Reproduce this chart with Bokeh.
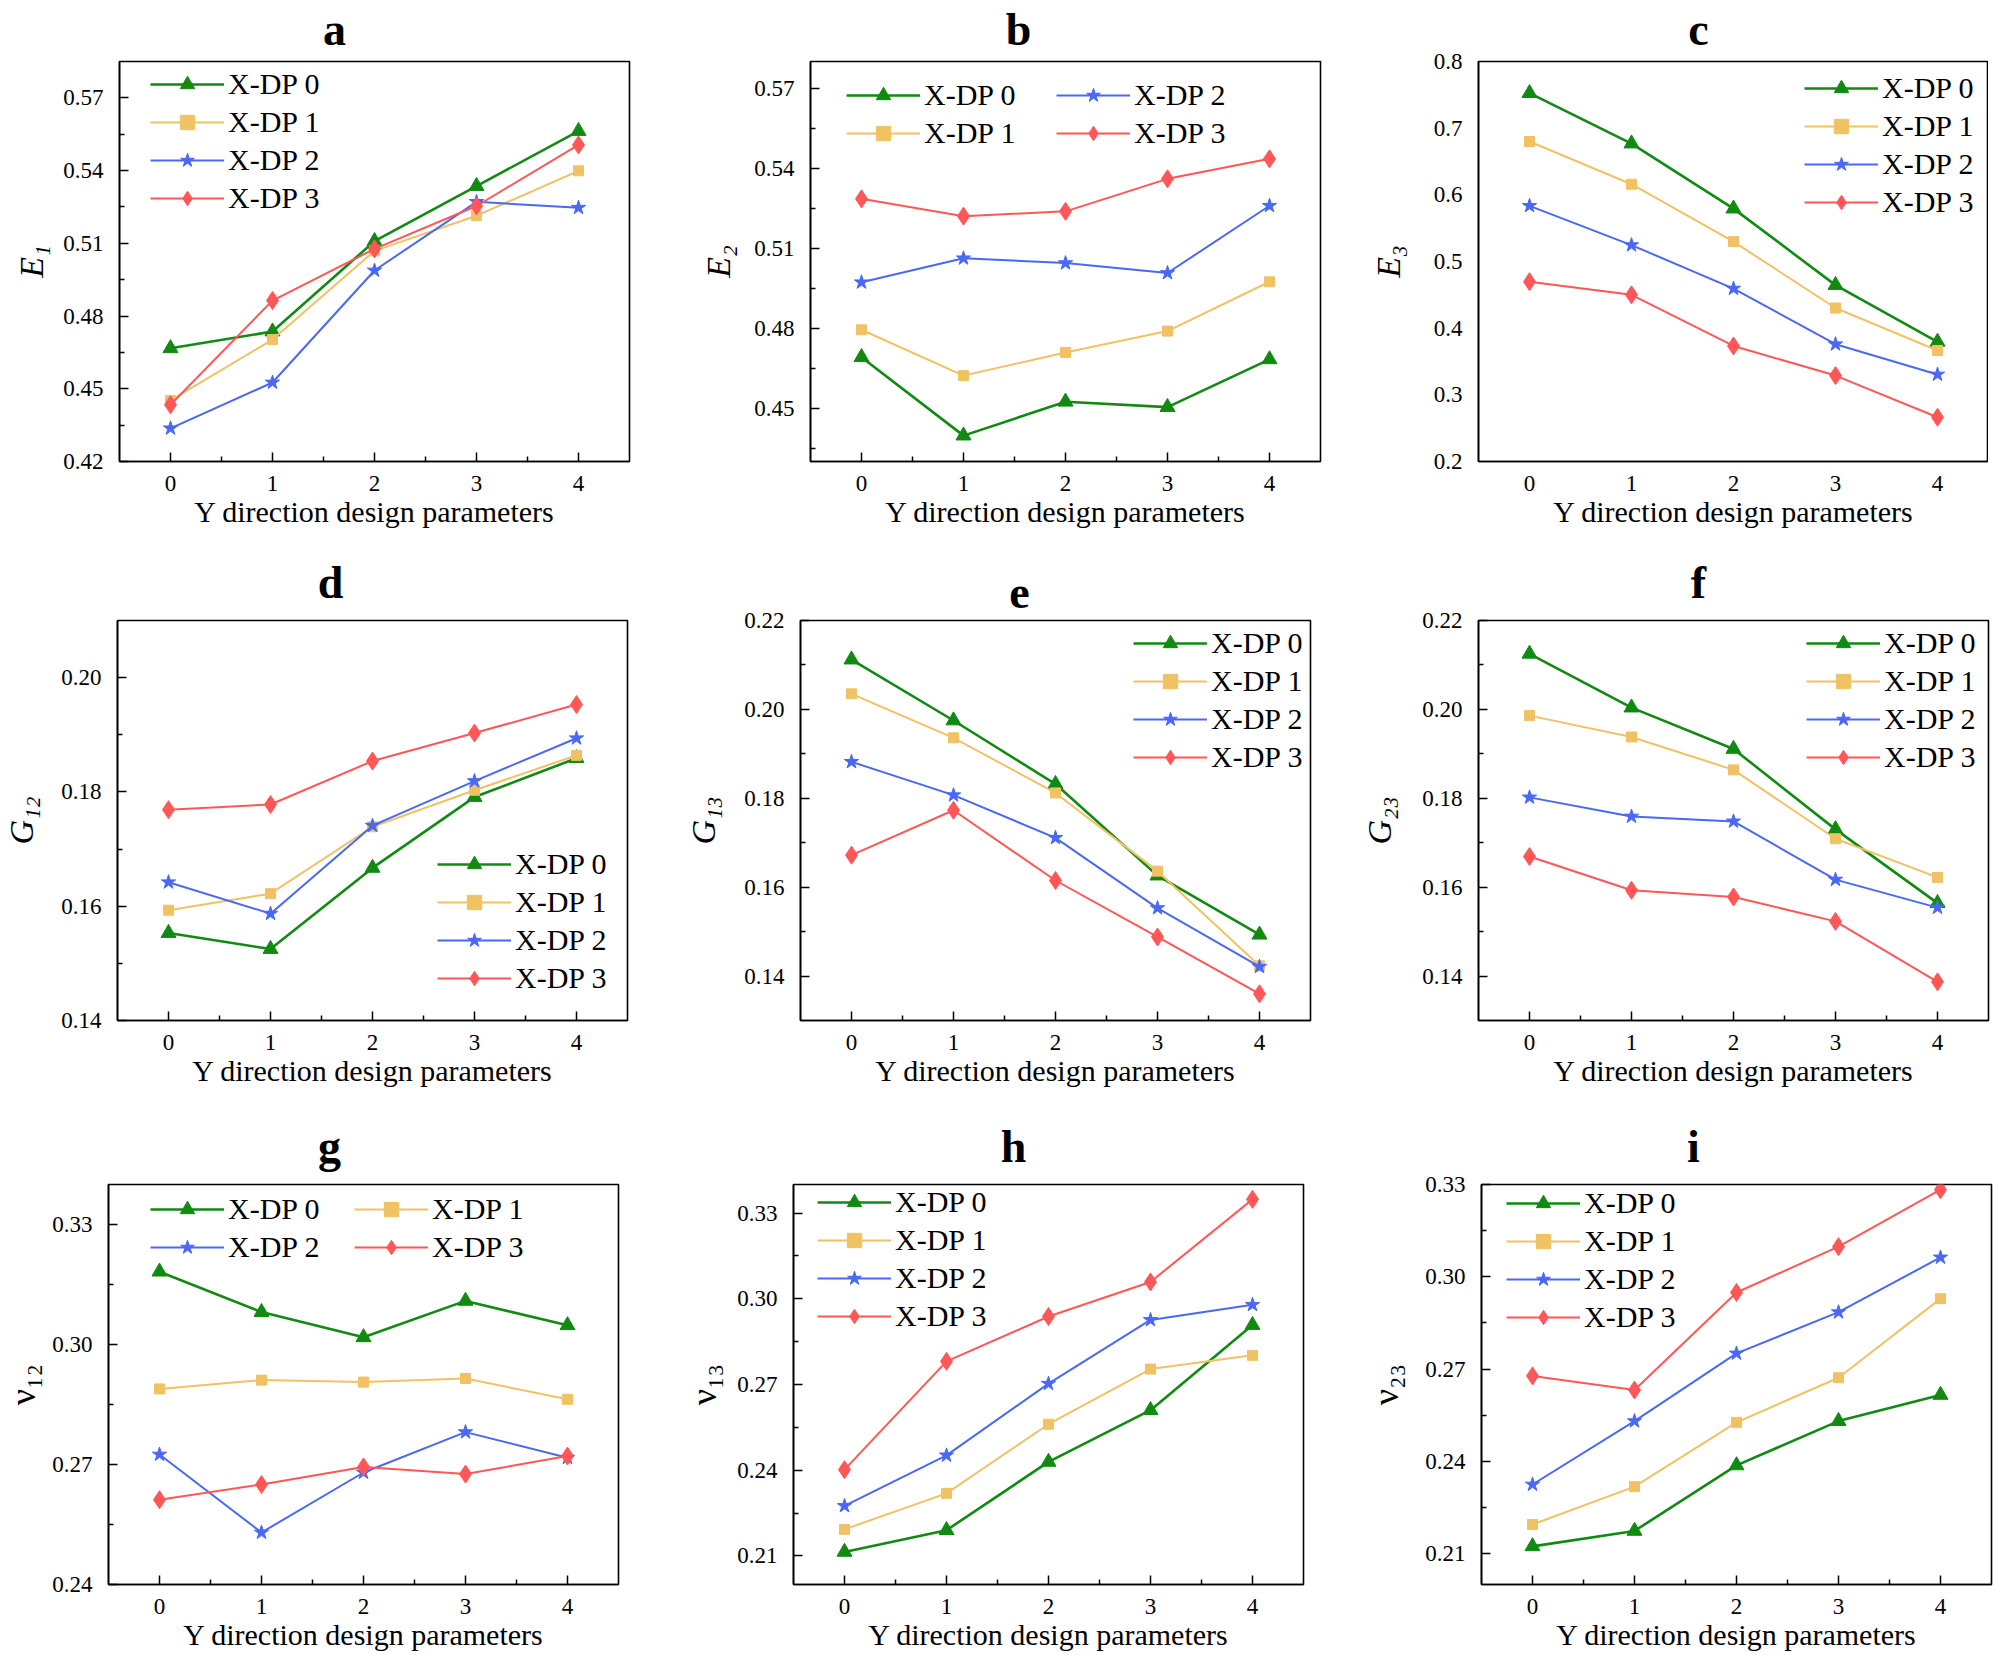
from bokeh.plotting import figure
from bokeh.layouts import column, row
from bokeh.models import (Range1d, FixedTicker, NumeralTickFormatter, Legend, LegendItem,
                          LinearAxis, CustomJSTickFormatter)
from bokeh.embed import file_html
from bokeh.resources import INLINE

# ---------------- data ----------------
y_dp = [0, 1, 2, 3, 4]
series_names = ["X-DP 0", "X-DP 1", "X-DP 2", "X-DP 3"]
x_axis_title = "Y direction design parameters"

E1_dp0 = [0.4667, 0.4736, 0.5109, 0.5336, 0.5563]
E1_dp1 = [0.4452, 0.4703, 0.5069, 0.5214, 0.5399]
E1_dp2 = [0.4337, 0.4526, 0.4988, 0.5271, 0.5247]
E1_dp3 = [0.4434, 0.4864, 0.5077, 0.5254, 0.5506]

E2_dp0 = [0.4691, 0.4397, 0.4524, 0.4504, 0.4683]
E2_dp1 = [0.4794, 0.4622, 0.4709, 0.4789, 0.4974]
E2_dp2 = [0.4972, 0.5062, 0.5044, 0.5007, 0.5259]
E2_dp3 = [0.5285, 0.5220, 0.5238, 0.5360, 0.5435]

E3_dp0 = [0.7525, 0.6769, 0.5793, 0.4646, 0.3795]
E3_dp1 = [0.6800, 0.6159, 0.5298, 0.4302, 0.3665]
E3_dp2 = [0.5835, 0.5246, 0.4594, 0.3759, 0.3305]
E3_dp3 = [0.4698, 0.4500, 0.3733, 0.3289, 0.2663]

G12_dp0 = [0.1553, 0.1525, 0.1667, 0.1791, 0.1859]
G12_dp1 = [0.1593, 0.1622, 0.1739, 0.1803, 0.1864]
G12_dp2 = [0.1642, 0.1587, 0.1741, 0.1819, 0.1894]
G12_dp3 = [0.1769, 0.1778, 0.1854, 0.1903, 0.1953]

G13_dp0 = [0.2112, 0.1975, 0.1832, 0.1626, 0.1493]
G13_dp1 = [0.2035, 0.1936, 0.1812, 0.1636, 0.1423]
G13_dp2 = [0.1882, 0.1807, 0.1711, 0.1553, 0.1421]
G13_dp3 = [0.1672, 0.1773, 0.1615, 0.1488, 0.1360]

G23_dp0 = [0.2125, 0.2004, 0.1911, 0.1730, 0.1564]
G23_dp1 = [0.1986, 0.1938, 0.1864, 0.1709, 0.1622]
G23_dp2 = [0.1802, 0.1759, 0.1748, 0.1617, 0.1554]
G23_dp3 = [0.1669, 0.1593, 0.1578, 0.1523, 0.1387]

v12_dp0 = [0.3182, 0.3081, 0.3018, 0.3109, 0.3048]
v12_dp1 = [0.2889, 0.2911, 0.2906, 0.2915, 0.2863]
v12_dp2 = [0.2725, 0.2530, 0.2680, 0.2781, 0.2717]
v12_dp3 = [0.2612, 0.2650, 0.2694, 0.2676, 0.2721]

v13_dp0 = [0.2114, 0.2190, 0.2429, 0.2610, 0.2908]
v13_dp1 = [0.2193, 0.2319, 0.2561, 0.2754, 0.2802]
v13_dp2 = [0.2275, 0.2452, 0.2703, 0.2926, 0.2979]
v13_dp3 = [0.2402, 0.2781, 0.2938, 0.3059, 0.3348]

v23_dp0 = [0.2124, 0.2174, 0.2387, 0.2531, 0.2616]
v23_dp1 = [0.2195, 0.2318, 0.2527, 0.2672, 0.2929]
v23_dp2 = [0.2325, 0.2531, 0.2751, 0.2885, 0.3063]
v23_dp3 = [0.2678, 0.2632, 0.2949, 0.3098, 0.3283]

# y-axis tick labels (major) and minor ticks
E1_ticks = [0.42, 0.45, 0.48, 0.51, 0.54, 0.57]
E1_minor = [0.435, 0.465, 0.495, 0.525, 0.555]
E2_ticks = [0.45, 0.48, 0.51, 0.54, 0.57]
E2_minor = [0.435, 0.465, 0.495, 0.525, 0.555]
E3_ticks = [0.2, 0.3, 0.4, 0.5, 0.6, 0.7, 0.8]
G12_ticks = [0.14, 0.16, 0.18, 0.20]
G12_minor = [0.15, 0.17, 0.19]
G13_ticks = [0.14, 0.16, 0.18, 0.20, 0.22]
G13_minor = [0.15, 0.17, 0.19, 0.21]
v12_ticks = [0.24, 0.27, 0.30, 0.33]
v12_minor = [0.255, 0.285, 0.315]
v13_ticks = [0.21, 0.24, 0.27, 0.30, 0.33]
v13_minor = [0.225, 0.255, 0.285, 0.315]
x_ticks = [0, 1, 2, 3, 4]
x_minor = [0.5, 1.5, 2.5, 3.5]

# ---------------- style ----------------
FONT = "Liberation Serif"
COLORS = ["#118a11", "#f0c264", "#4a68f4", "#ff5757"]
LWIDTH = [2.6, 2.0, 2.0, 2.0]
MARKERS = ["triangle", "square", "star", "diamond"]
MSIZE = [15, 10, 15, 18]

FW = 510
FH = 400
SUBS = {"1": "\u2081", "2": "\u2082", "3": "\u2083"}


def make_panel(letter, series, yr, ticks, minor, fmt, ylabel, italic, lab_size, lab_standoff,
               bl, br, bt, bb, title_standoff, title_dx, legend_spec, show_ticks=True):
    p = figure(frame_width=FW, frame_height=FH, output_backend="svg", toolbar_location=None,
               x_range=Range1d(-0.5, 4.5), y_range=Range1d(*yr),
               min_border_left=bl, min_border_right=br, min_border_top=bt, min_border_bottom=bb)
    p.background_fill_color = "white"
    p.border_fill_color = "white"
    p.grid.visible = False
    p.outline_line_color = "black"
    p.outline_line_width = 1.6

    p.xaxis.ticker = FixedTicker(ticks=x_ticks, minor_ticks=x_minor)
    p.yaxis.ticker = FixedTicker(ticks=ticks, minor_ticks=minor)
    p.yaxis.formatter = NumeralTickFormatter(format=fmt)
    for ax in (p.xaxis[0], p.yaxis[0]):
        ax.axis_line_width = 1.6
        ax.axis_line_color = "black"
        ax.major_label_text_font = FONT
        ax.major_label_text_font_size = "23px"
        ax.major_label_text_color = "black"
        ax.major_tick_out = 0
        ax.minor_tick_out = 0
        if show_ticks:
            ax.major_tick_in = 9
            ax.minor_tick_in = 5
            ax.major_tick_line_width = 1.5
            ax.minor_tick_line_width = 1.5
            ax.major_tick_line_color = "black"
            ax.minor_tick_line_color = "black"
        else:
            ax.major_tick_line_color = None
            ax.minor_tick_line_color = None
    p.xaxis.major_label_standoff = 14
    p.yaxis.major_label_standoff = 16
    p.xaxis.axis_label = x_axis_title
    p.xaxis.axis_label_text_font = FONT
    p.xaxis.axis_label_text_font_size = "30px"
    p.xaxis.axis_label_text_font_style = "normal"
    p.xaxis.axis_label_standoff = 1
    p.xaxis.axis_label_text_color = "black"

    main, sub = ylabel
    p.yaxis.axis_label = main + "".join(SUBS[c] for c in sub)
    p.yaxis.axis_label_text_font = FONT
    p.yaxis.axis_label_text_font_size = f"{lab_size}px"
    p.yaxis.axis_label_text_font_style = "italic" if italic else "normal"
    p.yaxis.axis_label_standoff = lab_standoff
    p.yaxis.axis_label_text_color = "black"

    # panel letter, set above the frame
    xt = -0.5 + title_dx * 5.0 / FW
    tax = LinearAxis(ticker=FixedTicker(ticks=[xt]),
                     formatter=CustomJSTickFormatter(code=f"return '{letter}'"),
                     major_label_standoff=title_standoff, major_tick_in=0, major_tick_out=0,
                     minor_tick_in=0, minor_tick_out=0, axis_line_color=None,
                     major_tick_line_color=None, minor_tick_line_color=None,
                     major_label_text_font=FONT, major_label_text_font_style="bold",
                     major_label_text_font_size="46px", major_label_text_color="black")
    p.add_layout(tax, "above")

    rends = []
    for k in range(4):
        ln = p.line(y_dp, series[k], line_color=COLORS[k], line_width=LWIDTH[k])
        mk = p.scatter(y_dp, series[k], marker=MARKERS[k], size=MSIZE[k],
                       fill_color=COLORS[k], line_color=COLORS[k], line_width=1)
        rends.append([ln, mk])

    for (idxs, lx, ly_top) in legend_spec:
        items = [LegendItem(label=series_names[k], renderers=rends[k]) for k in idxs]
        n = len(idxs)
        lh = n * 36 + (n - 1) * 2
        leg = Legend(items=items, location=(lx, FH - ly_top - lh), orientation="vertical",
                     glyph_width=74, glyph_height=36, label_height=36, spacing=2,
                     padding=0, margin=0, label_standoff=4,
                     label_text_font=FONT, label_text_font_size="30px",
                     label_text_color="black", label_text_baseline="middle",
                     border_line_alpha=0, background_fill_alpha=0)
        p.add_layout(leg)
    return p


R1 = dict(bt=58, bb=92, title_standoff=7)
R2 = dict(bt=66, bb=97, title_standoff=13)
R3 = dict(bt=66, bb=68, title_standoff=13)

pa = make_panel("a", [E1_dp0, E1_dp1, E1_dp2, E1_dp3], (0.42, 0.585), E1_ticks, E1_minor, "0.00",
                ("E", "1"), True, 34, 10, 119, 41, title_dx=215,
                legend_spec=[([0, 1, 2, 3], 31, 5)], **R1)
pb = make_panel("b", [E2_dp0, E2_dp1, E2_dp2, E2_dp3], (0.43, 0.58), E2_ticks, E2_minor, "0.00",
                ("E", "2"), True, 34, 14, 140, 35, title_dx=208,
                legend_spec=[([0, 1], 36, 16), ([2, 3], 246, 16)], **R1)
pc = make_panel("c", [E3_dp0, E3_dp1, E3_dp2, E3_dp3], (0.2, 0.8), E3_ticks, [], "0.0",
                ("E", "3"), True, 34, 24, 123, 0, title_dx=220,
                legend_spec=[([0, 1, 2, 3], 326, 9)], show_ticks=False, **R1)
pd = make_panel("d", [G12_dp0, G12_dp1, G12_dp2, G12_dp3], (0.14, 0.21), G12_ticks, G12_minor, "0.00",
                ("G", "12"), True, 34, 18, 115, 45, title_dx=213,
                legend_spec=[([0, 1, 2, 3], 320, FH - 24 - 150)], **R2)
pe = make_panel("e", [G13_dp0, G13_dp1, G13_dp2, G13_dp3], (0.13, 0.22), G13_ticks, G13_minor, "0.00",
                ("G", "13"), True, 34, 19, 128, 47, title_dx=219,
                legend_spec=[([0, 1, 2, 3], 333, 5)], **R2)
pf = make_panel("f", [G23_dp0, G23_dp1, G23_dp2, G23_dp3], (0.13, 0.22), G13_ticks, G13_minor, "0.00",
                ("G", "23"), True, 34, 21, 121, 2, title_dx=220,
                legend_spec=[([0, 1, 2, 3], 328, 5)], **R2)
pg = make_panel("g", [v12_dp0, v12_dp1, v12_dp2, v12_dp3], (0.24, 0.34), v12_ticks, v12_minor, "0.00",
                ("ν", "12"), False, 36, 6, 103, 57, title_dx=221,
                legend_spec=[([0, 2], 42, 7), ([1, 3], 246, 7)], **R3)
ph = make_panel("h", [v13_dp0, v13_dp1, v13_dp2, v13_dp3], (0.20, 0.34), v13_ticks, v13_minor, "0.00",
                ("ν", "13"), False, 36, 10, 118, 57, title_dx=220,
                legend_spec=[([0, 1, 2, 3], 24, 0)], **R3)
pi_ = make_panel("i", [v23_dp0, v23_dp1, v23_dp2, v23_dp3], (0.20, 0.33), v13_ticks, v13_minor, "0.00",
                 ("ν", "23"), False, 36, 16, 121, 2, title_dx=212,
                 legend_spec=[([0, 1, 2, 3], 25, 1)], **R3)

layout = column(row(pa, pb, pc), row(pd, pe, pf), row(pg, ph, pi_))

open("out.html", "w").write(file_html(layout, INLINE))
